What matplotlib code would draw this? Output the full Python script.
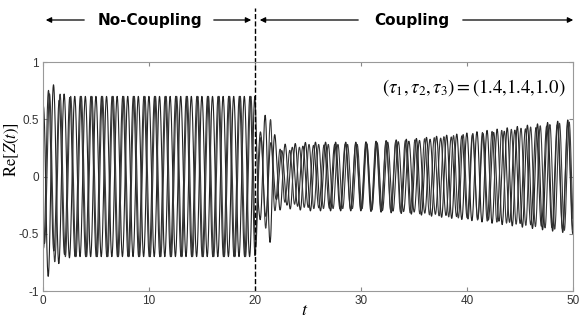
import numpy as np
import matplotlib
matplotlib.use("Agg")
import matplotlib.pyplot as plt
from matplotlib.patches import FancyArrowPatch

# envelope of each Re[Z_j(t)] (peak amplitude at knot times)
t_knots = [0, 0.3, 1.0, 2.0, 3.0, 4.0, 20.0, 20.4, 21.0, 21.5, 22.0, 23.0, 25.0, 30.0, 35.0, 40.0, 45.0, 50.0]
amp_z1  = [0.6, 0.9, 0.8, 0.72, 0.7, 0.7, 0.7, 0.35, 0.55, 0.58, 0.3, 0.28, 0.3, 0.3, 0.33, 0.38, 0.44, 0.5]
amp_z2  = [0.5, 0.7, 0.75, 0.7, 0.7, 0.7, 0.7, 0.3, 0.45, 0.5, 0.25, 0.22, 0.28, 0.28, 0.32, 0.37, 0.42, 0.48]
amp_z3  = [0.6, 0.8, 0.65, 0.68, 0.7, 0.7, 0.7, 0.4, 0.35, 0.3, 0.2, 0.25, 0.27, 0.29, 0.31, 0.36, 0.41, 0.47]
# oscillation frequency (cycles per unit t) before / after coupling, and phase offsets
freq_before = [1.0, 1.0, 1.0]
freq_after  = [1.05, 1.1, 1.0]
phase0      = [0.0, 2.4, 2.95]
t_switch = 20.0
tau_label = r'$(\tau_1{,}\,\tau_2{,}\,\tau_3) = (1.4{,}1.4{,}1.0)$'

t = np.linspace(0, 50, 10001)
dt = t[1] - t[0]

plt.rcParams['mathtext.fontset'] = 'stix'
fig = plt.figure(figsize=(5.81, 3.2), dpi=100)
ax = fig.add_axes([0.074, 0.0906, 0.912, 0.7156])

shades = ['#222222', '#3a3a3a', '#2e2e2e']
for amps, fb, fa, p0, c in zip([amp_z1, amp_z2, amp_z3], freq_before, freq_after, phase0, shades):
	env = np.interp(t, t_knots, amps)
	f = np.where(t < t_switch, fb, fa)
	ph = 2*np.pi*np.cumsum(f)*dt + p0
	ax.plot(t, env*np.cos(ph), color=c, lw=0.8)

ax.axvline(t_switch, ymin=0, ymax=1.235, color='k', ls='--', lw=1.0, clip_on=False)

ax.set_xlim(0, 50)
ax.set_ylim(-1, 1)
ax.set_xticks([0, 10, 20, 30, 40, 50])
ax.set_yticks([-1, -0.5, 0, 0.5, 1])
ax.set_yticklabels(['-1', '-0.5', '0', '0.5', '1'])
ax.tick_params(direction='in', top=True, right=True, length=3, color='#888888',
	labelsize=8.5, labelcolor='#333333', pad=3)
for lab in ax.get_xticklabels() + ax.get_yticklabels():
	lab.set_fontfamily('Liberation Sans')
for s in ax.spines.values():
	s.set_color('#999999')
	s.set_linewidth(0.8)

ax.set_xlabel(r'$t$', fontsize=13, va='center')
ax.xaxis.set_label_coords(0.494, -0.085)
ax.set_ylabel(r'$\mathrm{Re}[Z(t)]$', fontsize=12, va='center')
ax.yaxis.set_label_coords(-0.058, 0.62)
ax.text(0.986, 0.89, tau_label, transform=ax.transAxes, ha='right', va='center', fontsize=13.5)

# top annotations with arrows
yf = 1 - 20/320
def fx(px): return px/581
arr = dict(arrowstyle='-|>', color='k', lw=0.9, mutation_scale=8)
fig.text(fx(150), yf, 'No-Coupling', ha='center', va='center', fontsize=11, fontweight='bold')
fig.text(fx(412), yf, 'Coupling', ha='center', va='center', fontsize=11, fontweight='bold')
for x0, x1 in [(87, 43), (211, 254), (361, 257), (460, 576)]:
	fig.add_artist(FancyArrowPatch((fx(x0), yf), (fx(x1), yf),
		transform=fig.transFigure, **arr))

fig.savefig('out.png', dpi=100)
